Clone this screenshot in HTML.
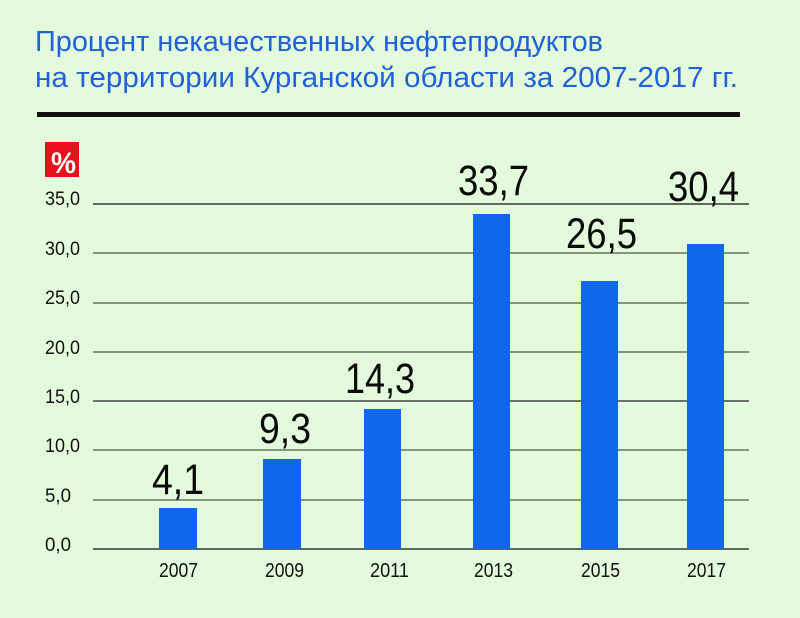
<!DOCTYPE html>
<html>
<head>
<meta charset="utf-8">
<style>
  html, body { margin: 0; padding: 0; }
  body { width: 800px; height: 618px; background: #e4fadc; overflow: hidden; }
  svg { display: block; }
  text { font-family: "Liberation Sans", "DejaVu Sans", sans-serif; }
</style>
</head>
<body>
<svg width="800" height="618" viewBox="0 0 800 618" xmlns="http://www.w3.org/2000/svg">
  <rect x="0" y="0" width="800" height="618" fill="#e4fadc"/>

  <!-- Title -->
  <text x="35" y="51" font-size="28.5" fill="#1f62d6" textLength="568" lengthAdjust="spacingAndGlyphs">Процент некачественных нефтепродуктов</text>
  <text x="35" y="87" font-size="28.5" fill="#1f62d6" textLength="703" lengthAdjust="spacingAndGlyphs">на территории Курганской области за 2007-2017 гг.</text>
  <rect x="37" y="112" width="703" height="5" fill="#111"/>

  <!-- % badge -->
  <rect x="45" y="142" width="34" height="35" fill="#e8101a"/>
  <text x="51" y="173" font-size="30" font-weight="bold" fill="#ffffff" textLength="25" lengthAdjust="spacingAndGlyphs">%</text>

  <!-- Gridlines -->
  <g stroke-width="1.3">
    <line x1="93" y1="204" x2="749" y2="204" stroke="#111"/>
    <line x1="93" y1="253" x2="749" y2="253" stroke="#4a5a4a"/>
    <line x1="93" y1="303" x2="749" y2="303" stroke="#4a5a4a"/>
    <line x1="93" y1="352" x2="749" y2="352" stroke="#4a5a4a"/>
    <line x1="93" y1="401" x2="749" y2="401" stroke="#222"/>
    <line x1="93" y1="450" x2="749" y2="450" stroke="#4a5a4a"/>
    <line x1="93" y1="500" x2="749" y2="500" stroke="#4a5a4a"/>
    <line x1="93" y1="549" x2="749" y2="549" stroke="#111"/>
  </g>

  <!-- Y labels -->
  <g font-size="19" fill="#111">
    <text x="45" y="205" textLength="35" lengthAdjust="spacingAndGlyphs">35,0</text>
    <text x="45" y="255" textLength="35" lengthAdjust="spacingAndGlyphs">30,0</text>
    <text x="45" y="304" textLength="35" lengthAdjust="spacingAndGlyphs">25,0</text>
    <text x="45" y="354" textLength="35" lengthAdjust="spacingAndGlyphs">20,0</text>
    <text x="45" y="403" textLength="35" lengthAdjust="spacingAndGlyphs">15,0</text>
    <text x="45" y="452" textLength="35" lengthAdjust="spacingAndGlyphs">10,0</text>
    <text x="45" y="502" textLength="26" lengthAdjust="spacingAndGlyphs">5,0</text>
    <text x="45" y="551" textLength="26" lengthAdjust="spacingAndGlyphs">0,0</text>
  </g>

  <!-- Bars -->
  <g fill="#1166ee">
    <rect x="159" y="508" width="38" height="41"/>
    <rect x="263" y="459" width="38" height="90"/>
    <rect x="364" y="409" width="37" height="140"/>
    <rect x="473" y="214" width="37" height="335"/>
    <rect x="581" y="281" width="37" height="268"/>
    <rect x="687" y="244" width="37" height="305"/>
  </g>

  <!-- Value labels -->
  <g font-size="43" fill="#0a0a0a">
    <text x="152" y="494" textLength="52" lengthAdjust="spacingAndGlyphs">4,1</text>
    <text x="259" y="443" textLength="52" lengthAdjust="spacingAndGlyphs">9,3</text>
    <text x="345" y="393" textLength="70" lengthAdjust="spacingAndGlyphs">14,3</text>
    <text x="458" y="195" textLength="71" lengthAdjust="spacingAndGlyphs">33,7</text>
    <text x="566" y="248" textLength="71" lengthAdjust="spacingAndGlyphs">26,5</text>
    <text x="668" y="201" textLength="71" lengthAdjust="spacingAndGlyphs">30,4</text>
  </g>

  <!-- X labels -->
  <g font-size="20" fill="#111">
    <text x="159" y="577" textLength="39" lengthAdjust="spacingAndGlyphs">2007</text>
    <text x="265" y="577" textLength="39" lengthAdjust="spacingAndGlyphs">2009</text>
    <text x="370" y="577" textLength="39" lengthAdjust="spacingAndGlyphs">2011</text>
    <text x="474" y="577" textLength="39" lengthAdjust="spacingAndGlyphs">2013</text>
    <text x="581" y="577" textLength="39" lengthAdjust="spacingAndGlyphs">2015</text>
    <text x="687" y="577" textLength="39" lengthAdjust="spacingAndGlyphs">2017</text>
  </g>
</svg>
</body>
</html>
